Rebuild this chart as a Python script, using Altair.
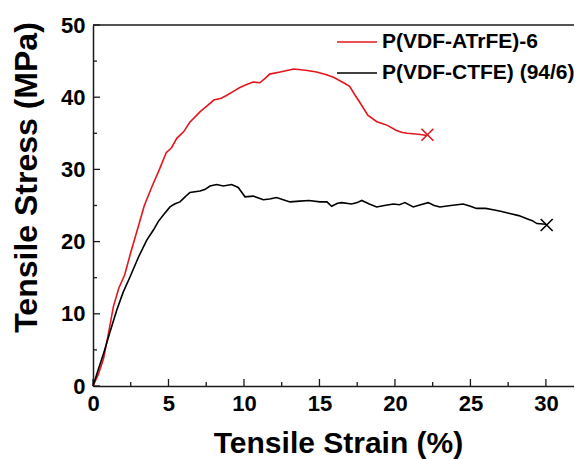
import altair as alt
import pandas as pd

# ---- data ----
series_names = ["P(VDF-ATrFE)-6", "P(VDF-CTFE) (94/6)"]
series_colors = ["#e3161c", "#000000"]

red_x = [0, 0.35, 0.7, 1.0, 1.35, 1.7, 2.1, 2.5, 3.0, 3.4, 3.9, 4.4, 4.85, 5.2, 5.55, 6.0, 6.4,
         7.1, 7.5, 8.0, 8.5, 8.9, 9.3, 9.7, 10.1, 10.6, 11.05, 11.4, 11.7, 12.4, 13.3, 14.2,
         14.8, 15.3, 15.9, 16.6, 17.0, 17.35, 17.7, 18.2, 18.8, 19.1, 19.5, 20.1, 20.5, 20.8,
         21.4, 21.8, 22.1]
red_y = [0, 1.6, 3.8, 7.0, 11.0, 13.5, 15.4, 18.5, 22.1, 25.0, 27.6, 30.0, 32.3, 33.0, 34.3,
         35.2, 36.5, 38.0, 38.7, 39.6, 39.85, 40.3, 40.8, 41.3, 41.7, 42.1, 42.0, 42.6, 43.2,
         43.5, 43.9, 43.7, 43.5, 43.2, 42.8, 42.0, 41.5, 40.3, 39.2, 37.5, 36.6, 36.4, 36.1,
         35.4, 35.1, 35.0, 34.9, 34.8, 34.7]

black_x = [0, 0.35, 0.7, 1.1, 1.57, 2.0, 2.45, 3.0, 3.56, 4.0, 4.33, 4.7, 5.1, 5.4, 5.76,
           6.1, 6.42, 7.09, 7.4, 7.75, 8.19, 8.63, 9.18, 9.62, 10.07, 10.62, 11.28, 11.7,
           12.16, 12.6, 13.05, 13.7, 14.3, 15.03, 15.5, 15.8, 16.2, 16.47, 17.13, 17.5, 17.8,
           18.3, 18.79, 19.3, 19.9, 20.3, 20.66, 21.21, 21.7, 22.2, 22.6, 22.98, 23.7, 24.52,
           25.0, 25.4, 26.0, 26.5, 27.0, 27.6, 28.2, 28.7, 29.1, 29.4, 30.0]
black_y = [0, 2.3, 4.5, 7.3, 10.5, 13.0, 15.1, 17.8, 20.2, 21.6, 22.8, 23.8, 24.8, 25.2, 25.5,
           26.2, 26.8, 27.0, 27.2, 27.7, 27.9, 27.7, 27.9, 27.5, 26.2, 26.3, 25.8, 25.9, 26.1,
           25.8, 25.5, 25.6, 25.7, 25.5, 25.5, 24.9, 25.3, 25.4, 25.2, 25.4, 25.7, 25.2, 24.8,
           25.0, 25.2, 25.1, 25.4, 24.8, 25.1, 25.4, 25.0, 24.8, 25.0, 25.2, 24.9, 24.6, 24.6,
           24.4, 24.2, 23.9, 23.6, 23.2, 22.9, 22.5, 22.4]

end_x = [22.15, 30.05]
end_y = [34.8, 22.3]

x_labels = [0, 5, 10, 15, 20, 25, 30]
x_minor = [2.5, 7.5, 12.5, 17.5, 22.5, 27.5]
y_labels = [0, 10, 20, 30, 40, 50]
y_minor = [5, 15, 25, 35, 45]

X_MAX = 31.86
W, H = 481, 361
FONT = "Liberation Sans"
AXIS_COLOR = "#1a1a1a"

df = pd.concat([
    pd.DataFrame({"strain": red_x, "stress": red_y, "series": series_names[0],
                  "idx": range(len(red_x))}),
    pd.DataFrame({"strain": black_x, "stress": black_y, "series": series_names[1],
                  "idx": range(len(black_x))}),
])
ends = pd.DataFrame({"strain": end_x, "stress": end_y, "series": series_names})

xscale = alt.Scale(domain=[0, X_MAX], nice=False, zero=False)
yscale = alt.Scale(domain=[0, 50], nice=False, zero=False)
cscale = alt.Scale(domain=series_names, range=series_colors)

x_enc = alt.X("strain:Q", scale=xscale,
              axis=alt.Axis(values=x_labels, ticks=False, grid=False, labelPadding=7,
                            labelFlush=False,
                            title="Tensile Strain (%)", titleX=245, titleY=66,
                            titleBaseline="alphabetic", titleFontSize=30))
y_enc = alt.Y("stress:Q", scale=yscale,
              axis=alt.Axis(values=y_labels, ticks=False, grid=False, labelPadding=8,
                            labelFlush=False,
                            title="Tensile Stress (MPa)", titleX=-57, titleY=152,
                            titleAngle=270, titleAlign="center",
                            titleBaseline="alphabetic", titleFontSize=32))

lines = alt.Chart(df).mark_line(strokeWidth=1.6).encode(
    x=x_enc, y=y_enc,
    color=alt.Color("series:N", scale=cscale,
                    legend=alt.Legend(orient="none", legendX=243, legendY=-4, title=None,
                                      symbolType="stroke", symbolSize=1600,
                                      symbolStrokeWidth=1.6, labelFontSize=21,
                                      labelFont=FONT, labelFontWeight="bold",
                                      labelColor="black", rowPadding=-16, labelOffset=4,
                                      labelLimit=400, padding=0)),
    order="idx:Q",
)

marks = alt.Chart(ends).mark_point(shape="M-1,-1L1,1M-1,1L1,-1", filled=False, size=144,
                                   strokeWidth=1.6, opacity=1).encode(
    x="strain:Q", y="stress:Q",
    color=alt.Color("series:N", scale=cscale, legend=None),
)

def xticks(vals, length):
    return alt.Chart(pd.DataFrame({"strain": vals})).mark_rule(
        color=AXIS_COLOR, strokeWidth=1.3).encode(
        x="strain:Q", y=alt.value(H), y2=alt.value(H - length))

def yticks(vals, length):
    return alt.Chart(pd.DataFrame({"stress": vals})).mark_rule(
        color=AXIS_COLOR, strokeWidth=1.3).encode(
        y="stress:Q", x=alt.value(0), x2=alt.value(length))

top_line = alt.Chart(pd.DataFrame({"k": [0]})).mark_rule(
    color=AXIS_COLOR, strokeWidth=1.5).encode(
    x=alt.value(0), x2=alt.value(W), y=alt.value(0))

chart = alt.layer(
    xticks(x_labels, 7), xticks(x_minor, 4), yticks(y_labels, 7), yticks(y_minor, 4),
    top_line, lines, marks,
).properties(
    width=W, height=H,
    autosize=alt.AutoSizeParams(type="none"),
    padding={"left": 85, "top": 17, "right": 0, "bottom": 73},
).configure_view(stroke=None).configure_axis(
    labelFont=FONT, labelFontWeight="bold", labelFontSize=22, labelColor="black",
    titleFont=FONT, titleFontWeight="bold", titleColor="black",
    domainColor=AXIS_COLOR, domainWidth=1.5,
)

chart.save("out.html", embed_options={"renderer": "svg", "actions": False})
